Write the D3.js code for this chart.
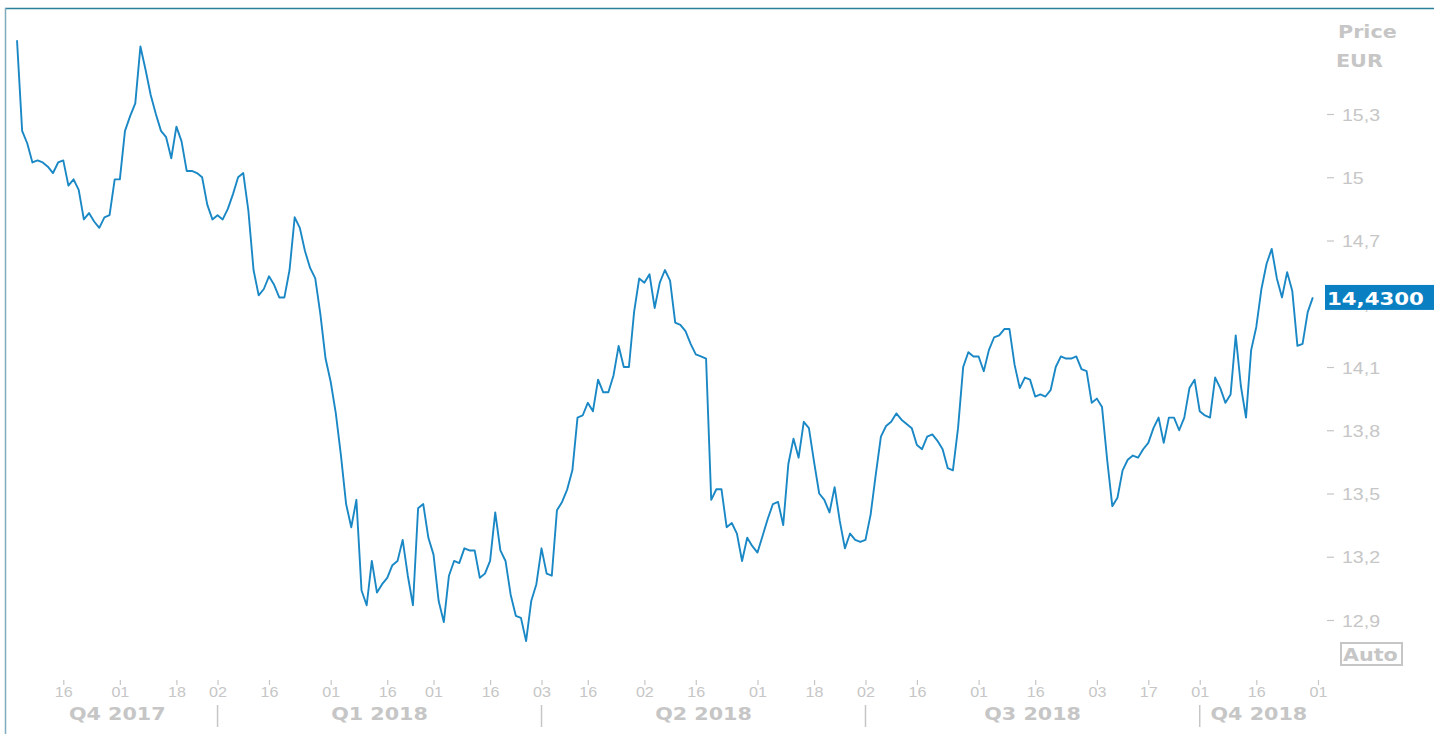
<!DOCTYPE html>
<html>
<head>
<meta charset="utf-8">
<script src="https://cdn.jsdelivr.net/npm/d3@7"></script>
<style>
  html, body { margin: 0; padding: 0; background: #fff; }
  svg { display: block; font-family: "DejaVu Sans", Verdana, sans-serif; }
</style>
</head>
<body>
<div id="chart"></div>
<script>
// trading calendar (first day .. last tick day) and exchange holidays
const startDate = "2017-11-03";
const endDate = "2018-11-01";
const holidays = ["2017-12-25", "2017-12-26", "2018-01-01", "2018-03-30", "2018-04-02", "2018-05-01"];

// daily close, EUR, 2017-11-03 .. 2018-10-31
const prices = [
  15.65, 15.22, 15.16, 15.07, 15.08, 15.07, 15.05, 15.02, 15.07, 15.08,
  14.96, 14.99, 14.94, 14.80, 14.83, 14.79, 14.76, 14.81, 14.82, 14.99,
  14.99, 15.22, 15.29, 15.35, 15.62, 15.51, 15.39, 15.30, 15.22, 15.19,
  15.09, 15.24, 15.17, 15.03, 15.03, 15.02, 15.00, 14.87, 14.80, 14.82,
  14.80, 14.85, 14.92, 15.00, 15.02, 14.84, 14.56, 14.44, 14.47, 14.53,
  14.49, 14.43, 14.43, 14.56, 14.81, 14.76, 14.65, 14.57, 14.52, 14.35,
  14.14, 14.03, 13.88, 13.68, 13.45, 13.34, 13.47, 13.04, 12.97, 13.18,
  13.03, 13.07, 13.10, 13.16, 13.18, 13.28, 13.11, 12.97, 13.43, 13.45,
  13.29, 13.21, 12.99, 12.89, 13.11, 13.18, 13.17, 13.24, 13.23, 13.23,
  13.10, 13.12, 13.18, 13.41, 13.23, 13.18, 13.02, 12.92, 12.91, 12.80,
  12.99, 13.07, 13.24, 13.12, 13.11, 13.42, 13.46, 13.52, 13.61, 13.86,
  13.87, 13.93, 13.89, 14.04, 13.98, 13.98, 14.06, 14.20, 14.10, 14.10,
  14.36, 14.52, 14.50, 14.54, 14.38, 14.50, 14.56, 14.51, 14.31, 14.30,
  14.27, 14.21, 14.16, 14.15, 14.14, 13.47, 13.52, 13.52, 13.34, 13.36,
  13.31, 13.18, 13.29, 13.25, 13.22, 13.30, 13.38, 13.45, 13.46, 13.35,
  13.64, 13.76, 13.67, 13.84, 13.81, 13.65, 13.50, 13.47, 13.41, 13.53,
  13.37, 13.24, 13.31, 13.28, 13.27, 13.28, 13.40, 13.59, 13.77, 13.82,
  13.84, 13.88, 13.85, 13.83, 13.81, 13.73, 13.71, 13.77, 13.78, 13.75,
  13.71, 13.62, 13.61, 13.81, 14.10, 14.17, 14.15, 14.15, 14.08, 14.18,
  14.24, 14.25, 14.28, 14.28, 14.11, 14.00, 14.05, 14.04, 13.96, 13.97,
  13.96, 13.99, 14.10, 14.15, 14.14, 14.14, 14.15, 14.09, 14.08, 13.93,
  13.95, 13.91, 13.66, 13.44, 13.48, 13.61, 13.66, 13.68, 13.67, 13.71,
  13.74, 13.81, 13.86, 13.74, 13.86, 13.86, 13.80, 13.86, 14.00, 14.04,
  13.89, 13.87, 13.86, 14.05, 14.00, 13.93, 13.97, 14.25, 14.01, 13.86,
  14.18, 14.29, 14.47, 14.59, 14.66, 14.52, 14.43, 14.55, 14.46, 14.20,
  14.21, 14.36, 14.43
];

const yTicks = [12.9, 13.2, 13.5, 13.8, 14.1, 14.4, 14.7, 15, 15.3];
const dayTicks = [
  "2017-11-16", "2017-12-01", "2017-12-18", "2018-01-02", "2018-01-16", "2018-02-01",
  "2018-02-16", "2018-03-01", "2018-03-16", "2018-04-03", "2018-04-16", "2018-05-02",
  "2018-05-16", "2018-06-01", "2018-06-18", "2018-07-02", "2018-07-16", "2018-08-01",
  "2018-08-16", "2018-09-03", "2018-09-17", "2018-10-01", "2018-10-16", "2018-11-01"
];
const quarterStarts = ["2018-01-02", "2018-04-03", "2018-07-02", "2018-10-01"];
const quarterLabels = ["Q4 2017", "Q1 2018", "Q2 2018", "Q3 2018", "Q4 2018"];
const lastPrice = "14,4300";

const W = 1434, H = 734;
const grey = "#c6c6c6";
const stretch = 1.15; // the reference text is drawn a bit wide

const fmtDay = d3.timeFormat("%Y-%m-%d");
const parseDay = d3.timeParse("%Y-%m-%d");
const days = d3.timeDay.range(parseDay(startDate), d3.timeDay.offset(parseDay(endDate), 1))
    .filter(d => d.getDay() !== 0 && d.getDay() !== 6 && !holidays.includes(fmtDay(d)))
    .map(fmtDay);
const dayIndex = new Map(days.map((d, i) => [d, i]));

const x = d3.scaleLinear().domain([0, days.length - 1]).range([17, 1318]);
const y = d3.scaleLinear().domain([12.9, 15.3]).range([620, 114]);

const deLocale = d3.formatLocale({ decimal: ",", thousands: ".", grouping: [3], currency: ["", " €"] });
const priceFmt = deLocale.format(".1~f");

const svg = d3.select('#chart')
    .append('svg')
    .attr('width', W)
    .attr('height', H);

// frame
svg.append('line')
    .attr('x1', 5).attr('x2', W).attr('y1', 8.5).attr('y2', 8.5)
    .attr('stroke', '#2d8099').attr('stroke-width', 1.5);
svg.append('line')
    .attr('x1', 5.5).attr('x2', 5.5).attr('y1', 8).attr('y2', H)
    .attr('stroke', '#80abbf').attr('stroke-width', 1.5);

// price line
const line = d3.line()
    .x((d, i) => x(i))
    .y(d => y(d));

svg.append('path')
    .datum(prices)
    .attr('fill', 'none')
    .attr('stroke', '#1b88c6')
    .attr('stroke-width', 1.9)
    .attr('stroke-linejoin', 'round')
    .attr('d', line);

// right axis
const yAxis = svg.append('g')
    .attr('transform', 'translate(1327,0)')
    .call(d3.axisRight(y).tickValues(yTicks).tickFormat(priceFmt).tickSize(7).tickPadding(8));
yAxis.select('.domain').remove();
yAxis.selectAll('line').attr('stroke', grey).attr('stroke-width', 1.2);
yAxis.selectAll('text')
    .attr('fill', grey)
    .style('font-size', '17px')
    .attr('x', 15 / stretch)
    .attr('dy', '0.36em')
    .attr('transform', `scale(${stretch},1)`);

// bottom axis
const xAxis = svg.append('g')
    .attr('transform', 'translate(0,680)')
    .call(d3.axisBottom(x)
        .tickValues(dayTicks.map(d => dayIndex.get(d)))
        .tickFormat(i => days[i].slice(8))
        .tickSize(5)
        .tickPadding(2));
xAxis.select('.domain').remove();
xAxis.selectAll('line').attr('stroke', grey).attr('stroke-width', 1.2);
xAxis.selectAll('text')
    .attr('fill', grey)
    .style('font-size', '14px')
    .attr('transform', `scale(${stretch},1)`);

// quarter separators and labels
const sepX = quarterStarts.map(d => x(dayIndex.get(d)));
svg.selectAll('.q-sep')
    .data(sepX)
    .enter().append('line')
    .attr('class', 'q-sep')
    .attr('x1', d => d).attr('x2', d => d)
    .attr('y1', 705).attr('y2', 727)
    .attr('stroke', grey).attr('stroke-width', 1.5);

const bounds = [x(0)].concat(sepX, [x(days.length - 1)]);
svg.selectAll('.q-label')
    .data(quarterLabels)
    .enter().append('text')
    .attr('class', 'q-label')
    .attr('transform', (d, i) => `translate(${(bounds[i] + bounds[i + 1]) / 2},720) scale(${stretch},1)`)
    .attr('text-anchor', 'middle')
    .attr('fill', grey)
    .style('font-size', '18px')
    .style('font-weight', 'bold')
    .text(d => d);

// axis title
svg.append('text')
    .attr('transform', `translate(1338,38) scale(${stretch},1)`)
    .attr('fill', grey)
    .style('font-size', '18px')
    .style('font-weight', 'bold')
    .text('Price');
svg.append('text')
    .attr('transform', `translate(1336,67) scale(${stretch},1)`)
    .attr('fill', grey)
    .style('font-size', '18px')
    .style('font-weight', 'bold')
    .text('EUR');

// last price marker (sits over the 14,4 tick label, as in the original)
const lastY = y(prices[prices.length - 1]);
svg.append('rect')
    .attr('x', 1325).attr('y', lastY - 12.5)
    .attr('width', W - 1325).attr('height', 25)
    .attr('fill', '#0a80c2');
svg.append('text')
    .attr('transform', `translate(1327,${lastY + 7.5}) scale(${stretch},1)`)
    .attr('fill', '#fff')
    .style('font-size', '18.5px')
    .style('font-weight', 'bold')
    .text(lastPrice);

// "Auto" button
svg.append('rect')
    .attr('x', 1341).attr('y', 643)
    .attr('width', 61).attr('height', 22)
    .attr('fill', '#fff')
    .attr('stroke', grey).attr('stroke-width', 2);
svg.append('text')
    .attr('transform', `translate(1343,661) scale(${stretch},1)`)
    .attr('fill', grey)
    .style('font-size', '18px')
    .style('font-weight', 'bold')
    .text('Auto');
</script>
</body>
</html>
